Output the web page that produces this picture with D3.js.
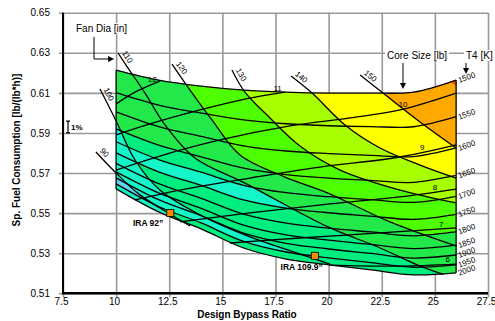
<!DOCTYPE html>
<meta charset="utf-8">
<style>
body { margin: 0; background: #fff; }
text { font-family: "Liberation Sans", Arial, sans-serif; fill: #000; }
.grid line { stroke: #999; stroke-width: 1.6px; }
.grid .domain { display: none; }
.grid text { font-size: 10px; }
.axisline { stroke: #000; stroke-width: 2px; }
.curve { fill: none; stroke: #000; stroke-width: 1.3px; }
.note { font-size: 10px; }
.small { font-size: 8px; }
.arrow { fill: none; stroke: #000; stroke-width: 1px; }
</style>
<svg width="495" height="321"></svg>
<script src="https://d3js.org/d3.v7.min.js"></script>
<script>
// axis ticks
var xTicks = [7.5, 10, 12.5, 15, 17.5, 20, 22.5, 25, 27.5];
var yTicks = [0.51, 0.53, 0.55, 0.57, 0.59, 0.61, 0.63, 0.65];

// design bypass ratio samples for the T4 lines
var bpr = [10, 12, 14, 16, 18, 20, 22, 24, 26];

// SFC along each T4 line [lb/(lb*h)]
var sfc1500 = [0.6214, 0.6164, 0.6134, 0.6114, 0.6104, 0.6099, 0.6099, 0.6104, 0.6164];
var sfc1550 = [0.6101, 0.6039, 0.5999, 0.5965, 0.5946, 0.5936, 0.5932, 0.5931, 0.5981];
var sfc1600 = [0.6005, 0.5932, 0.5883, 0.5836, 0.5810, 0.5797, 0.5788, 0.5782, 0.5825];
var sfc1650 = [0.5920, 0.5839, 0.5781, 0.5724, 0.5692, 0.5675, 0.5663, 0.5653, 0.5688];
var sfc1700 = [0.5856, 0.5767, 0.5704, 0.5639, 0.5602, 0.5582, 0.5567, 0.5554, 0.5584];
var sfc1750 = [0.5801, 0.5706, 0.5638, 0.5566, 0.5525, 0.5502, 0.5485, 0.5469, 0.5494];
var sfc1800 = [0.5748, 0.5647, 0.5574, 0.5495, 0.5450, 0.5425, 0.5406, 0.5387, 0.5408];
var sfc1850 = [0.5706, 0.5601, 0.5524, 0.5440, 0.5391, 0.5365, 0.5344, 0.5323, 0.5340];
var sfc1900 = [0.5676, 0.5567, 0.5487, 0.5400, 0.5349, 0.5321, 0.5299, 0.5276, 0.5291];
var sfc1950 = [0.5646, 0.5533, 0.5451, 0.5359, 0.5306, 0.5277, 0.5253, 0.5230, 0.5242];
var sfc2000 = [0.5621, 0.5506, 0.5421, 0.5326, 0.5271, 0.5242, 0.5217, 0.5192, 0.5202];
var t4Values = [1500, 1550, 1600, 1650, 1700, 1750, 1800, 1850, 1900, 1950, 2000];

// fan diameter lines [bpr, sfc]
var fan90  = [[9.05, 0.5805], [10.0, 0.5700], [11.12, 0.5591], [12.77, 0.5481], [13.48, 0.5436]];
var fan100 = [[9.24, 0.6119], [10.0, 0.5960], [10.89, 0.5765], [12.06, 0.5615], [13.95, 0.5491], [16.30, 0.5381], [18.65, 0.5296], [20.06, 0.5246]];
var fan110 = [[10.09, 0.6299], [10.56, 0.6224], [11.36, 0.6099], [12.30, 0.5940], [13.71, 0.5775], [16.06, 0.5650], [19.97, 0.5431], [22.32, 0.5331], [24.30, 0.5236], [25.40, 0.5195]];
var fan120 = [[12.63, 0.6244], [13.48, 0.6114], [14.51, 0.5965], [15.83, 0.5790], [17.95, 0.5680], [19.97, 0.5600], [22.89, 0.5456], [26.0, 0.5336]];
var fan130 = [[15.45, 0.6214], [16.06, 0.6104], [17.24, 0.5975], [18.65, 0.5835], [20.54, 0.5715], [23.36, 0.5615], [26.0, 0.5551]];
var fan140 = [[18.23, 0.6184], [19.22, 0.6099], [20.77, 0.5940], [22.42, 0.5825], [24.30, 0.5740], [26.0, 0.5675]];
var fan150 = [[21.48, 0.6189], [22.56, 0.6099], [24.30, 0.5955], [26.0, 0.5825]];
var fanValues = [90, 100, 110, 120, 130, 140, 150];

// core size lines [bpr, sfc]
var core12 = [[10.0, 0.6045], [10.89, 0.6104], [12.06, 0.6159]];
var core11 = [[10.0, 0.5890], [11.59, 0.5945], [13.95, 0.6015], [16.06, 0.6069], [17.95, 0.6104]];
var core10 = [[10.0, 0.5715], [12.06, 0.5785], [14.89, 0.5865], [18.18, 0.5935], [21.01, 0.5975], [23.36, 0.6015], [26.0, 0.6099]];
var core9  = [[10.89, 0.5566], [13.01, 0.5615], [16.30, 0.5675], [19.59, 0.5730], [23.36, 0.5780], [26.0, 0.5840]];
var core8  = [[13.01, 0.5456], [16.30, 0.5501], [20.06, 0.5546], [23.36, 0.5581], [26.0, 0.5620]];
var core7  = [[15.36, 0.5351], [18.65, 0.5376], [22.42, 0.5401], [26.0, 0.5426]];
var core6  = [[20.06, 0.5241], [23.36, 0.5236], [26.0, 0.5246]];
var coreValues = [12, 11, 10, 9, 8, 7, 6];
var coreLabelAt = [11.7, 17.6, 23.5, 24.4, 25.0, 25.3, 25.6];

// colour level of each cell: rows = T4 bands (1500-1550 ... 1950-2000),
// columns = fan strips (<90, 90-100, ..., 140-150, >150)
var levelColors = ["#5fd3f0", "#14f5c8", "#00ee80", "#22e84a", "#4dff00", "#a8ff00", "#ffff00", "#ffa800", "#ff4a00"];
var bandLevels = [
  [1, 1, 3, 3, 4, 5, 6, 7],
  [1, 1, 3, 3, 4, 5, 6, 7],
  [1, 1, 3, 3, 4, 5, 6, 6],
  [1, 1, 2, 3, 4, 5, 6, 6],
  [1, 1, 1, 3, 4, 5, 5, 5],
  [1, 1, 2, 3, 4, 4, 5, 5],
  [1, 1, 2, 3, 3, 4, 5, 5],
  [1, 1, 2, 3, 3, 4, 4, 4],
  [0, 1, 2, 3, 3, 3, 4, 4],
  [1, 2, 2, 3, 3, 3, 3, 3]
];

// engine markers
var engineNames = ["IRA 92\u201d", "IRA 109.9\u201d"];
var engineBpr = [12.55, 19.35];
var engineSfc = [0.5501, 0.5287];

var sfcLines = [sfc1500, sfc1550, sfc1600, sfc1650, sfc1700, sfc1750, sfc1800, sfc1850, sfc1900, sfc1950, sfc2000];
var fanLines = [fan90, fan100, fan110, fan120, fan130, fan140, fan150];
var coreLines = [core12, core11, core10, core9, core8, core7, core6];

var svg = d3.select("svg");

var x = d3.scaleLinear().domain([7.5, 27.5]).range([63, 488]);
var y = d3.scaleLinear().domain([0.51, 0.65]).range([293.3, 12.7]);
var W = x.range()[1] - x.range()[0],
    H = y.range()[0] - y.range()[1];

// grid + tick labels
svg.append("g")
    .attr("class", "grid")
    .attr("transform", "translate(" + x.range()[0] + ",0)")
    .call(d3.axisLeft(y).tickValues(yTicks).tickSize(-W).tickPadding(13).tickFormat(d3.format(".2f")))
  .selectAll("line")
    .attr("x1", -4);

svg.append("g")
    .attr("class", "grid")
    .attr("transform", "translate(0," + y.range()[0] + ")")
    .call(d3.axisBottom(x).tickValues(xTicks).tickSize(-H).tickPadding(5).tickFormat(d3.format("")))
  .call(function(g) {
    g.selectAll("line").attr("y1", 4);
    g.selectAll("text").attr("dx", -2);
  });

var pts = function(line) { return line.map(function(d) { return [x(d[0]), y(d[1])]; }); };
var curve = d3.line().curve(d3.curveCatmullRom);

// band between T4 lines as clip paths
var area = d3.area()
    .x(function(d, i) { return x(bpr[i]); })
    .y0(function(d) { return y(d[1]); })
    .y1(function(d) { return y(d[0]); })
    .curve(d3.curveCatmullRom);

var defs = svg.append("defs");
sfcLines.slice(0, -1).forEach(function(top, j) {
  var pairs = top.map(function(v, i) { return [v, sfcLines[j + 1][i]]; });
  defs.append("clipPath").attr("id", "band" + j)
    .append("path").attr("d", area(pairs));
});

// fan lines stretched past both ends for the colour strips
function extend(p) {
  var n = p.length;
  function ext(a, b) {
    var dx = a[0] - b[0], dy = a[1] - b[1], len = Math.hypot(dx, dy);
    return [a[0] + dx / len * 400, a[1] + dy / len * 400];
  }
  return [ext(p[0], p[1])].concat(p, [ext(p[n - 1], p[n - 2])]);
}
var fanExt = fanLines.map(function(l) { return extend(pts(l)); });

function stripPath(k) {
  if (k === 0) {
    var a = fanExt[0], e = a[a.length - 1];
    return curve(a) + "L" + e[0] + ",2000L-2000,2000L-2000," + a[0][1] + "Z";
  }
  if (k === fanExt.length) {
    var b = fanExt[k - 1], f = b[b.length - 1];
    return curve(b) + "L2000," + f[1] + "L2000,-2000L" + b[0][0] + ",-2000Z";
  }
  var l = fanExt[k - 1], r = fanExt[k].slice().reverse();
  return curve(l) + curve(r).replace(/^M/, "L") + "Z";
}

var fill = svg.append("g");
bandLevels.forEach(function(row, j) {
  var g = fill.append("g").attr("clip-path", "url(#band" + j + ")");
  row.forEach(function(lev, k) {
    g.append("path")
        .attr("d", stripPath(k))
        .attr("fill", levelColors[lev])
        .attr("stroke", levelColors[lev])
        .attr("stroke-width", 0.6);
  });
});

// hot corner above the core-10 line at the top right
var hot = core10.slice(-2);
fill.append("path")
    .attr("clip-path", "url(#band0)")
    .attr("fill", levelColors[8])
    .attr("d", "M" + x(hot[1][0]) + "," + y(hot[1][1] + 0.0035) +
               "L" + x(hot[1][0] - 0.45) + "," + y(sfc1500[sfc1500.length - 1] + 0.001) +
               "L" + x(hot[1][0]) + "," + y(sfc1500[sfc1500.length - 1] + 0.001) + "Z");

// axis lines
svg.append("line").attr("class", "axisline")
    .attr("x1", x.range()[0]).attr("x2", x.range()[0])
    .attr("y1", y.range()[1]).attr("y2", y.range()[0]);
svg.append("line").attr("class", "axisline")
    .attr("x1", x.range()[0] - 1).attr("x2", x.range()[1])
    .attr("y1", y.range()[0]).attr("y2", y.range()[0])
    .style("stroke-width", "2.5px");

// T4 lines
var t4Line = d3.line()
    .x(function(d, i) { return x(bpr[i]); })
    .y(function(d) { return y(d); })
    .curve(d3.curveCatmullRom);

svg.append("g").selectAll("path")
  .data(sfcLines)
  .join("path")
    .attr("class", "curve")
    .attr("d", t4Line);

// carpet sides
[0, bpr.length - 1].forEach(function(i) {
  svg.append("line").attr("class", "curve")
      .attr("x1", x(bpr[i])).attr("x2", x(bpr[i]))
      .attr("y1", y(sfc1500[i])).attr("y2", y(sfc2000[i]));
});

// fan and core lines
svg.append("g").selectAll("path")
  .data(fanLines.concat(coreLines))
  .join("path")
    .attr("class", "curve")
    .attr("d", function(d) { return curve(pts(d)); });

// fan labels
fanLines.forEach(function(l, k) {
  var p = pts(l), a = Math.atan2(p[1][1] - p[0][1], p[1][0] - p[0][0]) * 180 / Math.PI;
  svg.append("text").attr("class", "small")
      .attr("transform", "translate(" + p[0][0] + "," + p[0][1] + ") rotate(" + a + ")")
      .attr("dx", 2).attr("dy", -3)
      .text(fanValues[k]);
});

// core size labels
coreLines.forEach(function(l, k) {
  var b = coreLabelAt[k], i = Math.max(1, Math.min(l.length - 1, d3.bisector(function(d) { return d[0]; }).left(l, b)));
  var t = (b - l[i - 1][0]) / (l[i][0] - l[i - 1][0]);
  var s = l[i - 1][1] + t * (l[i][1] - l[i - 1][1]);
  svg.append("text").attr("class", "small")
      .attr("x", x(b)).attr("y", y(s) - 2)
      .attr("text-anchor", "middle")
      .text(coreValues[k]);
});

// T4 labels at the right edge
sfcLines.forEach(function(l, k) {
  var px = x(bpr[bpr.length - 1]) + 3, py = y(l[l.length - 1]) + 3;
  svg.append("text").attr("class", "small")
      .attr("transform", "translate(" + px + "," + py + ") rotate(-20)")
      .text(t4Values[k]);
});

// engines
var labelShift = [[-7, 13], [8, 14]];
engineBpr.forEach(function(b, i) {
  svg.append("rect")
      .attr("x", x(b) - 3.5).attr("y", y(engineSfc[i]) - 3.5)
      .attr("width", 7).attr("height", 7)
      .attr("fill", "#ff8c00").attr("stroke", "#000").attr("stroke-width", 0.8);
  svg.append("text")
      .attr("x", x(b) + labelShift[i][0]).attr("y", y(engineSfc[i]) + labelShift[i][1])
      .attr("text-anchor", "end")
      .style("font-size", "8.5px").style("font-weight", "bold")
      .text(engineNames[i]);
});

// annotations with white backing
function note(tx, ty, str) {
  var t = svg.append("text").attr("class", "note").attr("x", tx).attr("y", ty).text(str);
  var bb = t.node().getBBox();
  svg.insert("rect", function() { return t.node(); })
      .attr("x", bb.x - 2).attr("y", bb.y).attr("width", bb.width + 4).attr("height", bb.height)
      .attr("fill", "#fff");
}
note(76, 32, "Fan Dia [in]");
note(387, 59, "Core Size [lb]");
note(466, 59, "T4 [K]");

var head = function(px, py, dir) {
  var s = 3;
  var d = dir === "right"
    ? "M" + px + "," + py + "l" + (-2 * s) + "," + (-s) + "l0," + (2 * s) + "Z"
    : "M" + px + "," + py + "l" + (-s) + "," + (-2 * s) + "l" + (2 * s) + ",0Z";
  svg.append("path").attr("d", d).attr("fill", "#000");
};
var fx = x(10) - 2;
svg.append("path").attr("class", "arrow").attr("d", "M94,37V59H" + (fx - 4));
head(fx, 59, "right");
svg.append("path").attr("class", "arrow").attr("d", "M403,63V84");
head(403, 89, "down");
svg.append("path").attr("class", "arrow").attr("d", "M466,63V69");
head(466, 74, "down");

// 1% bar
var barX = x(7.5) + 5, barTop = y(0.5959), barBot = y(0.59);
svg.append("path").attr("fill", "none").attr("stroke", "#000").attr("stroke-width", 1.2)
    .attr("d", "M" + barX + "," + barTop + "V" + barBot +
               "M" + (barX - 2) + "," + barTop + "h4M" + (barX - 2) + "," + barBot + "h4");
svg.append("text").attr("x", barX + 3).attr("y", (barTop + barBot) / 2 + 3)
    .style("font-size", "8px").style("font-weight", "bold").text("1%");

// axis titles
svg.append("text")
    .attr("x", 247).attr("y", 318)
    .attr("text-anchor", "middle")
    .style("font-size", "10px").style("font-weight", "bold")
    .text("Design Bypass Ratio");
svg.append("text")
    .attr("transform", "translate(20,150) rotate(-90)")
    .attr("text-anchor", "middle")
    .style("font-size", "10px").style("font-weight", "bold")
    .text("Sp. Fuel Consumption [lb/(lb*h)]");
</script>
